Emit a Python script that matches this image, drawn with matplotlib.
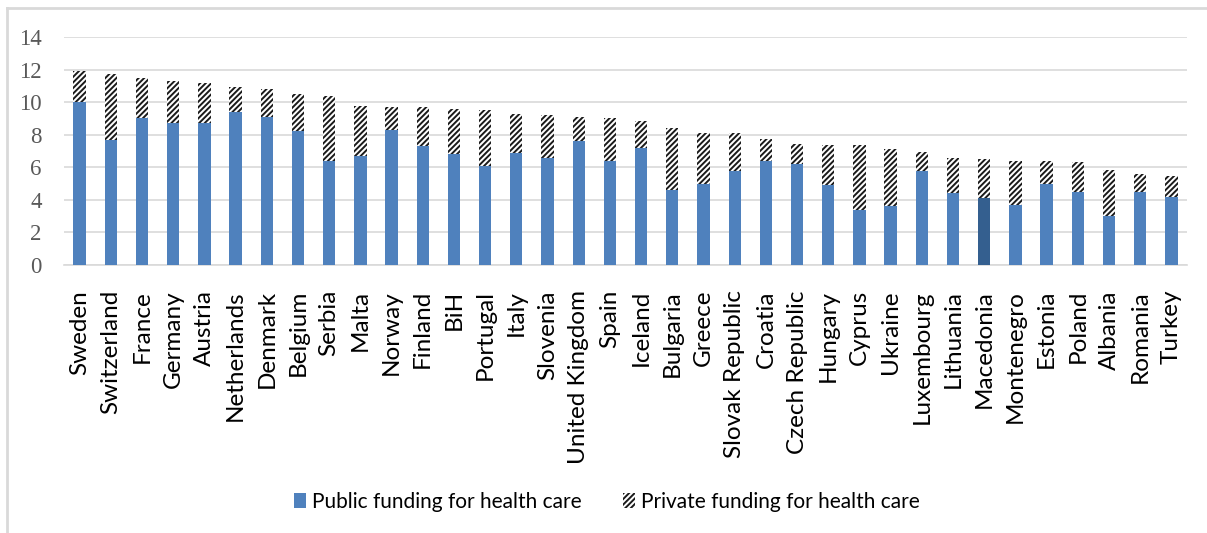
import matplotlib
matplotlib.use("Agg")
import matplotlib.pyplot as plt
from matplotlib.patches import Patch
from matplotlib.lines import Line2D
import numpy as np

countries = ["Sweden", "Switzerland", "France", "Germany", "Austria", "Netherlands",
             "Denmark", "Belgium", "Serbia", "Malta", "Norway", "Finland", "BiH",
             "Portugal", "Italy", "Slovenia", "United Kingdom", "Spain", "Iceland",
             "Bulgaria", "Greece", "Slovak Republic", "Croatia", "Czech Republic",
             "Hungary", "Cyprus", "Ukraine", "Luxembourg", "Lithuania", "Macedonia",
             "Montenegro", "Estonia", "Poland", "Albania", "Romania", "Turkey"]

public = [10.0, 7.7, 9.0, 8.7, 8.7, 9.4, 9.1, 8.2, 6.4, 6.7, 8.3, 7.3, 6.8,
          6.1, 6.9, 6.6, 7.6, 6.4, 7.2, 4.6, 5.0, 5.8, 6.4, 6.2,
          4.9, 3.4, 3.6, 5.8, 4.4, 4.1, 3.7, 5.0, 4.5, 3.0, 4.5, 4.2]
total = [11.9, 11.7, 11.5, 11.3, 11.2, 10.9, 10.8, 10.5, 10.4, 9.75, 9.7, 9.7, 9.6,
         9.5, 9.25, 9.2, 9.1, 9.05, 8.85, 8.4, 8.1, 8.1, 7.75, 7.45,
         7.35, 7.35, 7.1, 6.95, 6.55, 6.5, 6.4, 6.4, 6.3, 5.85, 5.6, 5.45]
private = [t - p for t, p in zip(total, public)]
yticks = [0, 2, 4, 6, 8, 10, 12, 14]
highlight = "Macedonia"

fig = plt.figure(figsize=(12.07, 5.33), dpi=100)
ax = fig.add_axes([64/1207, 1-265/533, (1187-64)/1207, (265-37)/533])

n = len(countries)
x = np.arange(n)
blue = "#4f81bd"
dark = "#345f8f"
colors = [dark if c == highlight else blue for c in countries]
plt.rcParams['hatch.linewidth'] = 1.4
ax.bar(x, public, width=0.395, color=colors, edgecolor="none", linewidth=0, zorder=3)
ax.bar(x, private, width=0.395, bottom=public, color="white", edgecolor="#1a1a1a",
       linewidth=0, hatch="//////", zorder=3)

ax.set_xlim(-0.5, n - 0.5)
ax.set_ylim(0, 14)
ax.set_yticks(yticks)
ax.set_yticklabels([str(v) for v in yticks], family=["Liberation Serif", "DejaVu Serif"],
                   fontsize=16.5, color="#595959")
ax.tick_params(axis="y", length=0, pad=16)
ax.tick_params(axis="x", length=0, pad=18)
ax.set_xticks(x)
ax.set_xticklabels(countries, rotation=90, family=["Lato", "DejaVu Sans"], fontsize=17.5,
                   color="black", va="top", ha="center")
ax.grid(axis="y", color="#d9d9d9", linewidth=1.2, zorder=0)
for s in ["top", "right", "left"]:
    ax.spines[s].set_visible(False)
ax.spines["bottom"].set_color("#d9d9d9")
ax.spines["bottom"].set_linewidth(1.2)

# figure border
fig.add_artist(Line2D([7/1207, 7/1207], [0, 1-8/533], transform=fig.transFigure,
                      color="#d9d9d9", linewidth=2))
fig.add_artist(Line2D([7/1207, 1], [1-8/533, 1-8/533], transform=fig.transFigure,
                      color="#d9d9d9", linewidth=2))

handles = [Patch(facecolor=blue, edgecolor="none", label="Public funding for health care"),
           Patch(facecolor="white", edgecolor="#1a1a1a", linewidth=0, hatch="//////",
                 label="Private funding for health care")]
fig.legend(handles=handles, loc="center", bbox_to_anchor=(607/1207, 1-502/533),
           ncol=2, frameon=False, prop={"family": "Lato", "size": 15},
           handlelength=0.55, handleheight=0.75, handletextpad=0.3, columnspacing=2.0)

fig.savefig("out.png", dpi=100)
